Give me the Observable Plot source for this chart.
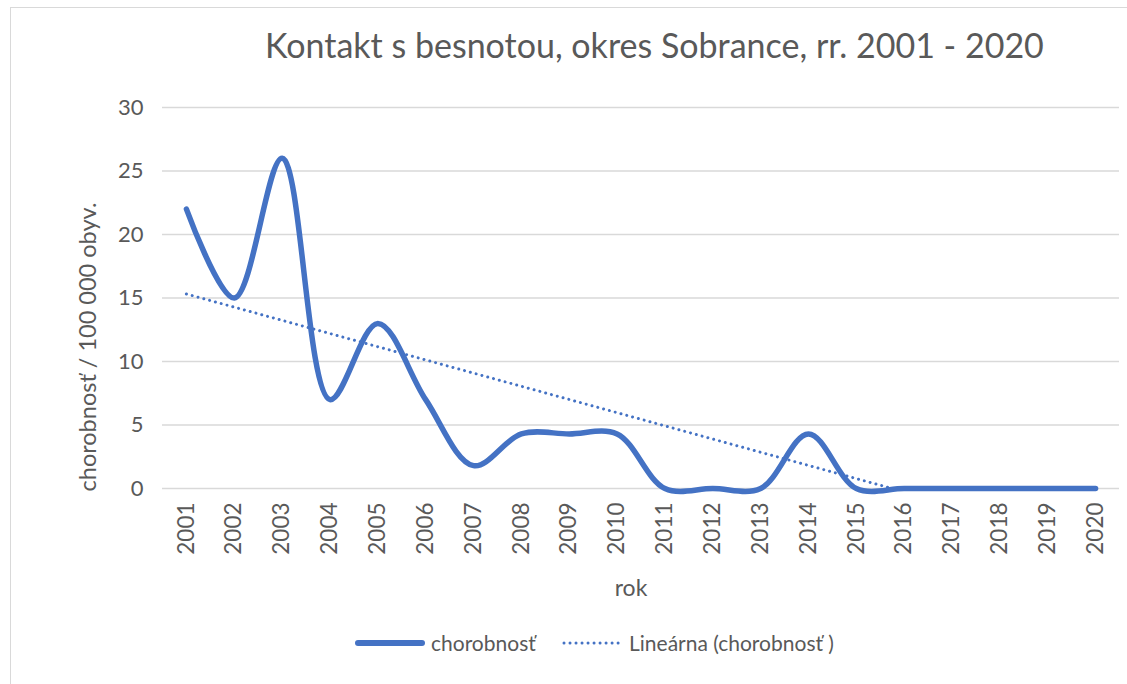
<!DOCTYPE html>
<html>
<head>
<meta charset="utf-8">
<script src="https://cdn.jsdelivr.net/npm/d3@7"></script>
<script src="https://cdn.jsdelivr.net/npm/@observablehq/plot@0.6"></script>
<style>
  html, body { margin: 0; padding: 0; background: #fff; overflow: hidden; }
  #page { position: relative; width: 1127px; height: 684px; overflow: hidden; font-family: Lato, "Open Sans", sans-serif; color: #595959; }
  #caption { position: absolute; left: 10px; top: -21px; font: bold 23px "Liberation Serif", serif; color: #000; white-space: nowrap; }
  #frame { position: absolute; left: 10px; top: 7px; width: 1300px; height: 900px; border: 1.5px solid #d9d9d9; box-sizing: border-box; }
  #title { position: absolute; left: 265px; top: 24px; font-size: 34px; white-space: nowrap; color: #595959; }
  #chart { position: absolute; left: 0; top: 90px; }
  .legend-item { position: absolute; top: 630px; display: flex; align-items: center; font-size: 21px; white-space: nowrap; }
  .legend-item svg { display: block; }
</style>
</head>
<body>
<div id="page">
  <div id="caption">Graf III.6.2</div>
  <div id="frame"></div>
  <div id="title">Kontakt s besnotou, okres Sobrance, rr. 2001 - 2020</div>
  <div id="chart"></div>
  <div class="legend-item" id="leg1" style="left:355px"></div>
  <div class="legend-item" id="leg2" style="left:561px"></div>
</div>
<script>
// Rabies contact morbidity per 100 000 inhabitants, Sobrance district
const years = [2001, 2002, 2003, 2004, 2005, 2006, 2007, 2008, 2009, 2010,
               2011, 2012, 2013, 2014, 2015, 2016, 2017, 2018, 2019, 2020];
const morbidity = [22, 15, 26, 7, 13, 7, 1.8, 4.3, 4.3, 4.3,
                   0, 0, 0, 4.3, 0, 0, 0, 0, 0, 0];
const yTicks = [0, 5, 10, 15, 20, 25, 30];
const seriesName = "chorobnosť";
const trendName = "Lineárna (chorobnosť )";
const yLabel = "chorobnosť / 100 000 obyv.";
const xLabel = "rok";

const blue = "#4472C4";
const textColor = "#595959";

const data = years.map((year, i) => ({year, value: morbidity[i]}));

// Least-squares linear trend; drawn from the first year until it reaches zero
const n = years.length;
const mx = d3.mean(years), my = d3.mean(morbidity);
const slope = d3.sum(years, (x, i) => (x - mx) * (morbidity[i] - my)) /
              d3.sum(years, x => (x - mx) ** 2);
const intercept = my - slope * mx;
const zeroYear = -intercept / slope;
const trendEnd = Math.min(years[n - 1], zeroYear);
const trend = [
  {year: years[0], value: intercept + slope * years[0]},
  {year: trendEnd, value: Math.max(0, intercept + slope * trendEnd)}
];

const chart = Plot.plot({
  width: 1127,
  height: 530,
  marginTop: 17,
  marginBottom: 132,
  marginLeft: 162,
  marginRight: 8,
  style: {fontFamily: "Lato, 'Open Sans', sans-serif", color: textColor, background: "transparent"},
  x: {type: "linear", domain: [years[0] - 0.5, years[n - 1] + 0.5]},
  y: {domain: [0, 30]},
  marks: [
    Plot.ruleY(yTicks, {stroke: "#d9d9d9", strokeWidth: 1.5}),
    Plot.axisY({ticks: yTicks, tickSize: 0, tickPadding: 19, fontSize: 22, label: null}),
    Plot.axisX({ticks: years, tickFormat: d => String(d), tickRotate: -90, tickSize: 0,
                tickPadding: 14, fontSize: 22.5, label: null}),
    Plot.line(trend, {x: "year", y: "value", stroke: blue, strokeWidth: 3,
                      strokeDasharray: "0.01 6", strokeLinecap: "round"}),
    Plot.line(data, {x: "year", y: "value", curve: "catmull-rom", stroke: blue, strokeWidth: 5.5,
                     strokeLinecap: "round", strokeLinejoin: "round"}),
    Plot.text([yLabel], {frameAnchor: "left", textAnchor: "middle", dx: -74, dy: 49, rotate: -90,
                         fontSize: 23.5, fill: textColor}),
    Plot.text([xLabel], {frameAnchor: "bottom", textAnchor: "middle", dx: -10, dy: 107,
                         fontSize: 23, fill: textColor})
  ]
});
document.getElementById("chart").appendChild(chart);

// Legend swatches
function swatch(dashed) {
  const w = dashed ? 62 : 70;
  const svg = d3.create("svg").attr("width", w).attr("height", 14);
  svg.append("line")
    .attr("x1", 3).attr("x2", w - 3)
    .attr("y1", 7).attr("y2", 7)
    .attr("stroke", blue)
    .attr("stroke-width", dashed ? 3 : 6)
    .attr("stroke-linecap", "round")
    .attr("stroke-dasharray", dashed ? "0.01 6" : null);
  return svg.node();
}
const leg1 = document.getElementById("leg1");
leg1.appendChild(swatch(false));
leg1.insertAdjacentHTML("beforeend", `<span style="margin-left:6px">${seriesName}</span>`);
const leg2 = document.getElementById("leg2");
leg2.appendChild(swatch(true));
leg2.insertAdjacentHTML("beforeend", `<span style="margin-left:6px">${trendName}</span>`);
</script>
</body>
</html>
